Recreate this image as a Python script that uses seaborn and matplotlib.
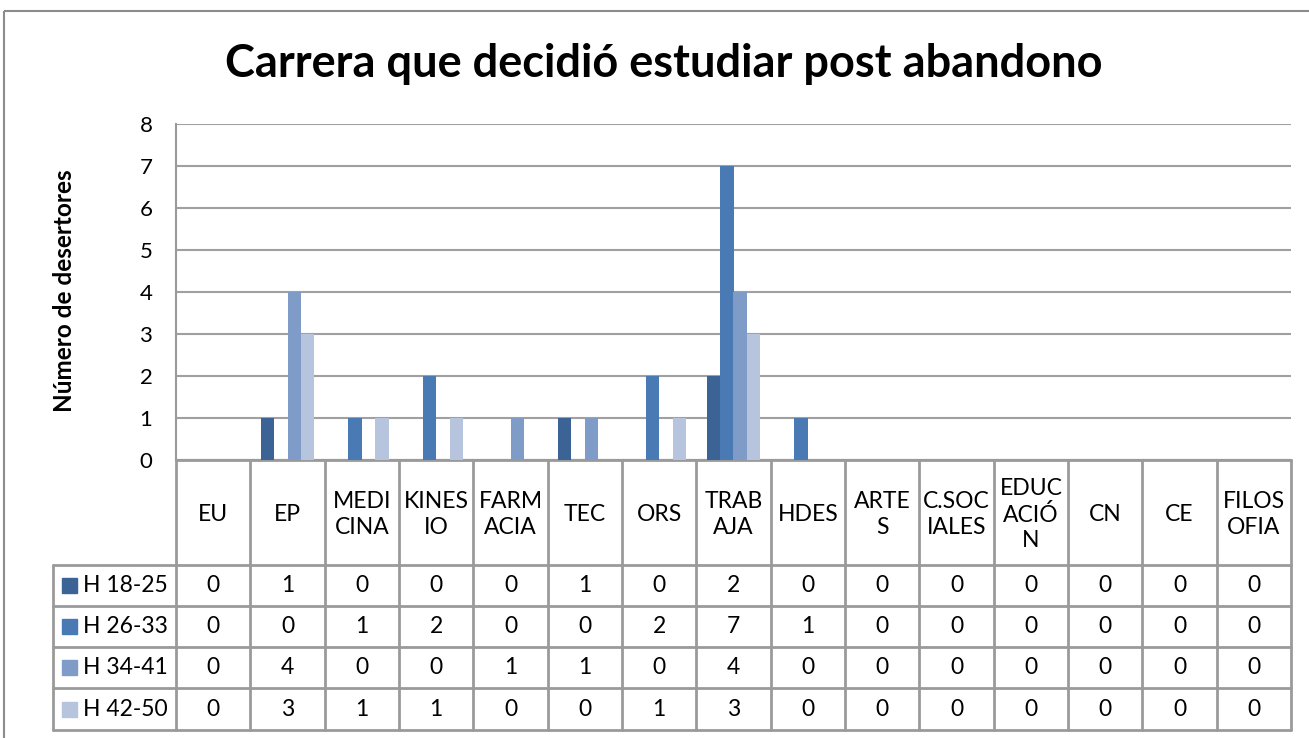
import matplotlib
matplotlib.use("Agg")
import matplotlib.pyplot as plt
import matplotlib.patches as mpatches
import seaborn as sns
import pandas as pd

categories = ["EU", "EP", "MEDICINA", "KINESIO", "FARMACIA", "TEC", "ORS", "TRABAJA",
              "HDES", "ARTES", "C.SOCIALES", "EDUCACIÓN", "CN", "CE", "FILOSOFIA"]
header_labels = ["EU", "EP", "MEDI\nCINA", "KINES\nIO", "FARM\nACIA", "TEC", "ORS", "TRAB\nAJA",
                 "HDES", "ARTE\nS", "C.SOC\nIALES", "EDUC\nACIÓ\nN", "CN", "CE", "FILOS\nOFIA"]
series = ["H 18-25", "H 26-33", "H 34-41", "H 42-50"]
h18_25 = [0, 1, 0, 0, 0, 1, 0, 2, 0, 0, 0, 0, 0, 0, 0]
h26_33 = [0, 0, 1, 2, 0, 0, 2, 7, 1, 0, 0, 0, 0, 0, 0]
h34_41 = [0, 4, 0, 0, 1, 1, 0, 4, 0, 0, 0, 0, 0, 0, 0]
h42_50 = [0, 3, 1, 1, 0, 0, 1, 3, 0, 0, 0, 0, 0, 0, 0]
colors = ["#3C6396", "#4A7AB4", "#7F9CC8", "#B7C4DE"]
title = "Carrera que decidió estudiar post abandono"
ylabel = "Número de desertores"

values = [h18_25, h26_33, h34_41, h42_50]
df = pd.DataFrame([
    {"cat": c, "serie": s, "val": v}
    for s, vals in zip(series, values) for c, v in zip(categories, vals)
])

sns.set_style("white")
plt.rcParams["font.family"] = ["Lato", "DejaVu Sans"]
plt.rcParams["text.color"] = "black"
plt.rcParams["ytick.color"] = "black"

W, H = 1309, 738
fig = plt.figure(figsize=(W / 100, H / 100), dpi=100)
fig.patch.set_facecolor("white")

L, R, T, B = 176, 1291, 124, 460
ax = fig.add_axes([L / W, 1 - B / H, (R - L) / W, (B - T) / H])
sns.barplot(data=df, x="cat", y="val", hue="serie", order=categories, hue_order=series,
            palette=colors, saturation=1, width=0.72, ax=ax, legend=False,
            edgecolor="none", zorder=3)
ax.set_ylim(0, 8)
ax.set_xlim(-0.5, len(categories) - 0.5)
ax.set_yticks(range(0, 9))
ax.yaxis.grid(True, color="#A0A0A0", linewidth=1.5, zorder=0)
ax.set_axisbelow(True)
ax.set_xticks([])
ax.set_xlabel("")
ax.set_ylabel("")
for s in ["top", "right"]:
    ax.spines[s].set_visible(False)
for s in ["left", "bottom"]:
    ax.spines[s].set_color("#9A9A9A")
    ax.spines[s].set_linewidth(1.5)
ax.tick_params(axis="y", length=0, labelcolor="black", labelsize=16, pad=17, left=False)
ax.set_facecolor("none")

# overlay in pixel coordinates for table, title, labels, border
ov = fig.add_axes([0, 0, 1, 1], zorder=-1)
ov.set_xlim(0, W)
ov.set_ylim(H, 0)
ov.axis("off")
ov.add_patch(mpatches.Rectangle((4, 11), W + 20, H + 20, fill=False, edgecolor="#8C8C8C", lw=1.5))

fig.text(664 / W, 1 - 64 / H, title, ha="center", va="center", fontsize=32.5,
         fontweight="bold", color="black")
fig.text(65 / W, 1 - 291 / H, ylabel, ha="center", va="center", rotation=90,
         fontsize=17.5, fontweight="bold", color="black")

n = len(categories)
cw = (R - L) / n
xs = [L + i * cw for i in range(n + 1)]
rows = [B, 565, 606, 647, 688, 730]
gc = "#9A9A9A"
lw = 2
ov.plot([L, R], [rows[0], rows[0]], color=gc, lw=lw)
for y in rows[1:]:
    ov.plot([53, R], [y, y], color=gc, lw=lw)
for x in xs:
    ov.plot([x, x], [rows[0], rows[-1]], color=gc, lw=lw)
ov.plot([53, 53], [rows[1], rows[-1]], color=gc, lw=lw)

fs = 16.5
for i, lab in enumerate(header_labels):
    ov.text(xs[i] + cw / 2, (rows[0] + rows[1]) / 2 + 2, lab, ha="center", va="center",
            fontsize=fs, linespacing=1.25, color="black")
for r, (s, vals, c) in enumerate(zip(series, values, colors)):
    yc = (rows[r + 1] + rows[r + 2]) / 2
    ov.add_patch(mpatches.Rectangle((62, yc - 7.5), 15, 15, color=c))
    ov.text(83, yc, s, ha="left", va="center", fontsize=fs, color="black")
    for i, v in enumerate(vals):
        ov.text(xs[i] + cw / 2, yc, str(v), ha="center", va="center", fontsize=fs,
                color="black")

fig.savefig("out.png", dpi=100)
